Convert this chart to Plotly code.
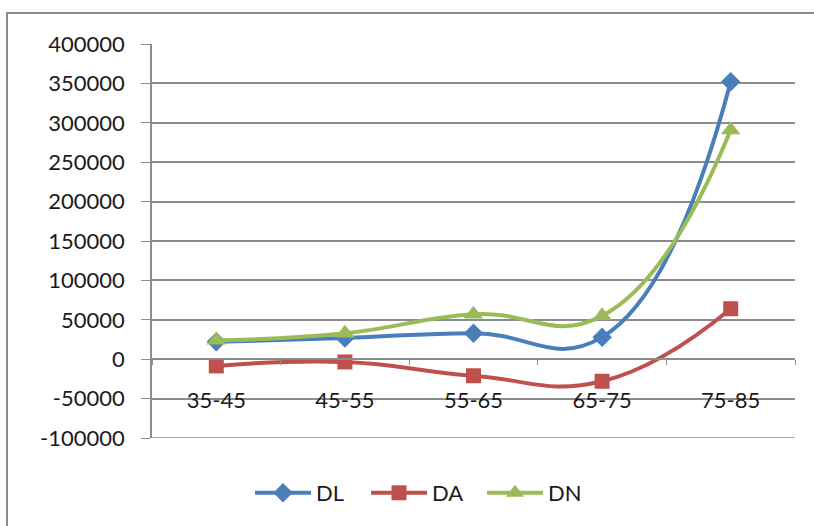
import plotly.graph_objects as go

# Age bands on the category axis
age_bands = ["35-45", "45-55", "55-65", "65-75", "75-85"]

# Series values per age band
dl_values = [22000, 27000, 33000, 28000, 352000]
da_values = [-8500, -3500, -21000, -28000, 64000]
dn_values = [24000, 33000, 57000, 55000, 291000]

# Value axis ticks
y_ticks = [-100000, -50000, 0, 50000, 100000, 150000, 200000, 250000, 300000, 350000, 400000]
y_tick_labels = ["-100000", "-50000", "0", "50000", "100000", "150000",
                 "200000", "250000", "300000", "350000", "400000"]

W, H = 814, 526
L, R, T, B = 152, 19, 44, 88
plot_h = H - T - B
plot_w = W - L - R
y_min, y_max = -100000, 400000
zero_frac = (0 - y_min) / (y_max - y_min)

FONT = "Lato, 'Open Sans', sans-serif"
TXT = "#1a1a1a"
GRID = "#8c8c8c"

series = [
    ("DL", dl_values, "#4a7ebb", dict(symbol="diamond", size=15)),
    ("DA", da_values, "#c0504d", dict(symbol="square", size=15)),
    ("DN", dn_values, "#9bbb59", dict(symbol="triangle-up", size=17)),
]

fig = go.Figure()
for name, vals, color, mk in series:
    fig.add_trace(go.Scatter(
        x=age_bands, y=vals, name=name, mode="lines+markers",
        line=dict(color=color, width=4, shape="spline", smoothing=1.3),
        marker=dict(color=color, line=dict(width=0), **mk),
    ))

fig.update_layout(
    width=W, height=H,
    margin=dict(l=L, r=R, t=T, b=B, pad=0),
    paper_bgcolor="white", plot_bgcolor="white",
    font=dict(family=FONT, size=22, color=TXT),
    showlegend=True,
    legend=dict(orientation="h", x=(424 - L) / plot_w, y=-(493 - (T + plot_h)) / plot_h,
                xanchor="center", yanchor="middle", font=dict(size=22),
                bgcolor="rgba(0,0,0,0)", itemwidth=56, entrywidth=45,
                entrywidthmode="pixels", tracegroupgap=0),
    xaxis=dict(
        type="category", range=[-0.5, 4.5], anchor="free", position=zero_frac,
        showline=True, linecolor=GRID, linewidth=1.5,
        showgrid=False, zeroline=False,
        ticks="outside", ticklen=5, tickcolor=GRID, tickson="boundaries",
        ticklabelstandoff=22, tickfont=dict(size=22, color=TXT),
    ),
    yaxis=dict(
        range=[y_min, y_max], tickvals=y_ticks, ticktext=y_tick_labels,
        showline=True, linecolor=GRID, linewidth=1.5,
        showgrid=True, gridcolor=GRID, gridwidth=1.5, zeroline=False,
        ticks="outside", ticklen=9, tickcolor=GRID,
        ticklabelstandoff=12, tickfont=dict(size=22, color=TXT),
    ),
    shapes=[
        # outer chart frame
        dict(type="rect", xref="paper", yref="paper",
             x0=(7 - L) / plot_w, x1=1.2,
             y0=-0.5, y1=1 + (T - 13) / plot_h,
             line=dict(color="#8a8a8a", width=2), layer="below"),
        # bottom gridline at the axis minimum
        dict(type="line", xref="paper", yref="y",
             x0=0, x1=1, y0=y_min, y1=y_min,
             line=dict(color=GRID, width=1.5), layer="below"),
    ],
)

fig.write_html("out.html")
